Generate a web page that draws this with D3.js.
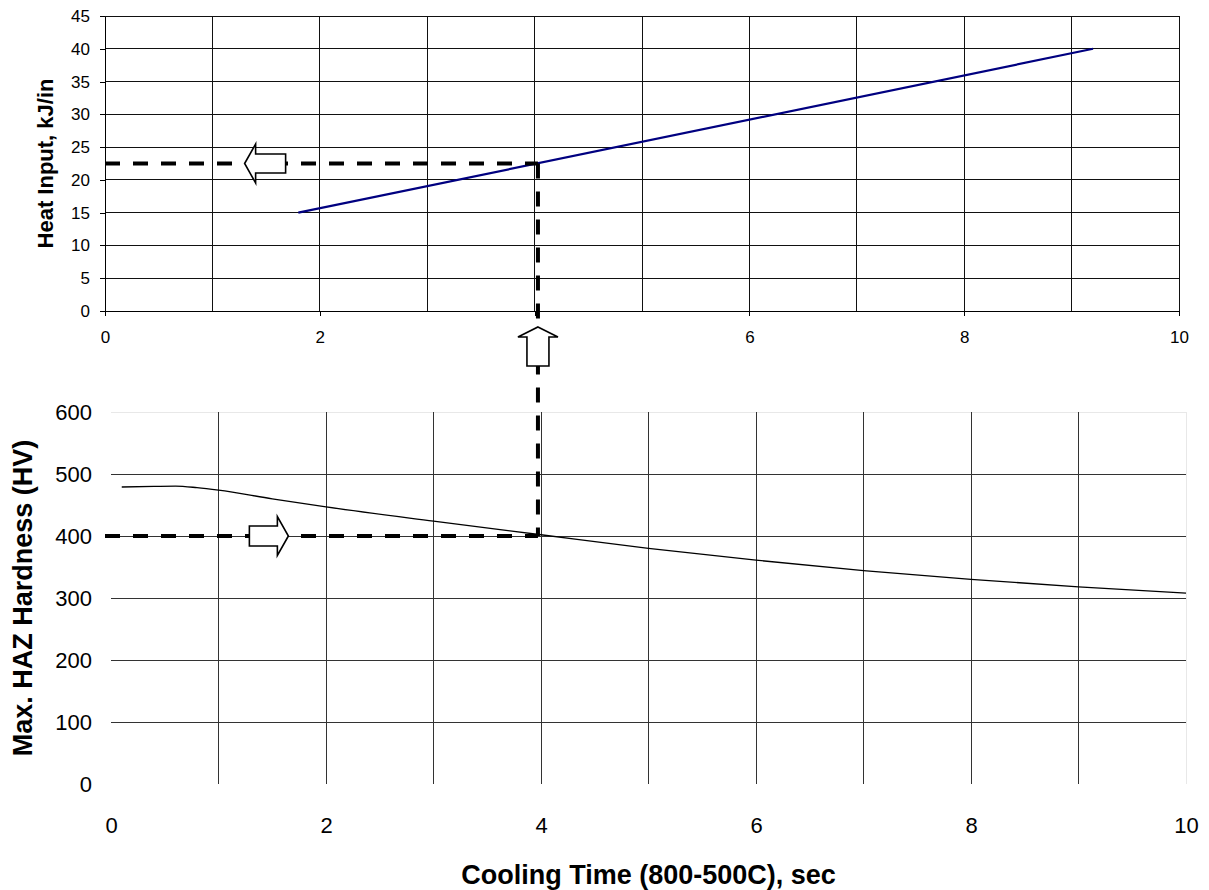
<!DOCTYPE html>
<html>
<head>
<meta charset="utf-8">
<script src="https://cdn.jsdelivr.net/npm/d3@7/dist/d3.min.js"></script>
<style>
  html, body { margin: 0; padding: 0; background: #fff; }
  svg { display: block; font-family: "Liberation Sans", Arial, sans-serif; }
</style>
</head>
<body>
<svg id="chart" width="1209" height="890"></svg>
<script>
// ---------- DATA ----------
// Top chart: Heat input vs cooling time
const heatTime  = [1.8, 9.2];
const heatInput = [15, 40];
// Bottom chart: Max HAZ hardness vs cooling time
const hardTime  = [0.1, 0.4, 0.6, 0.8, 1.0, 1.5, 2, 3, 4, 5, 6, 7, 8, 9, 10];
const hardness  = [479, 480, 480.5, 478, 474, 460, 447, 424, 402, 380, 361, 344, 330, 318, 308];
// Tick values
const topXTicks = [0, 2, 4, 6, 8, 10];
const topXGrid  = [1, 2, 3, 4, 5, 6, 7, 8, 9, 10];
const topYTicks = [0, 5, 10, 15, 20, 25, 30, 35, 40, 45];
const botXTicks = [0, 2, 4, 6, 8, 10];
const botXGrid  = [1, 2, 3, 4, 5, 6, 7, 8, 9];
const botYTicks = [0, 100, 200, 300, 400, 500, 600];
// Reading example
const readTime = 4.02;
const readHeat = 22.5;
const readHard = 400;
// Titles
const topYTitle = "Heat Input, kJ/in";
const botYTitle = "Max. HAZ Hardness (HV)";
const xTitle    = "Cooling Time (800-500C), sec";

// ---------- SCALES ----------
const svg = d3.select("#chart");
const xTop = d3.scaleLinear().domain([0, 10]).range([105, 1179]);
const yTop = d3.scaleLinear().domain([0, 45]).range([311, 16]);
const xBot = d3.scaleLinear().domain([0, 10]).range([111, 1186]);
const yBot = d3.scaleLinear().domain([0, 600]).range([784, 412]);

// ---------- TOP CHART ----------
const gTop = svg.append("g");
gTop.append("g").selectAll("line").data(topYTicks.filter(d => d > 0)).join("line")
  .attr("x1", xTop(0)).attr("x2", xTop(10))
  .attr("y1", d => yTop(d)).attr("y2", d => yTop(d))
  .attr("stroke", "#111").attr("stroke-width", 1).attr("shape-rendering", "crispEdges");
gTop.append("g").selectAll("line").data(topXGrid).join("line")
  .attr("x1", d => xTop(d)).attr("x2", d => xTop(d))
  .attr("y1", yTop(45)).attr("y2", yTop(0))
  .attr("stroke", "#111").attr("stroke-width", 1).attr("shape-rendering", "crispEdges");
const topYAxis = gTop.append("g").attr("transform", `translate(${xTop(0)},0)`)
  .call(d3.axisLeft(yTop).tickValues(topYTicks).tickSize(5).tickPadding(10).tickSizeOuter(0));
const topXAxis = gTop.append("g").attr("transform", `translate(0,${yTop(0)})`)
  .call(d3.axisBottom(xTop).tickValues(topXTicks).tickSize(5).tickPadding(15).tickSizeOuter(0));
[topYAxis, topXAxis].forEach(a => {
  a.select(".domain").attr("stroke", "#000").attr("shape-rendering", "crispEdges");
  a.selectAll(".tick line").attr("stroke", "#000").attr("shape-rendering", "crispEdges");
  a.selectAll("text").attr("font-size", 17).attr("fill", "#000")
    .attr("font-family", "'Liberation Sans', Arial, sans-serif");
});
gTop.append("path")
  .datum(heatTime.map((t, i) => [t, heatInput[i]]))
  .attr("fill", "none").attr("stroke", "#000080").attr("stroke-width", 2.2)
  .attr("d", d3.line().x(d => xTop(d[0])).y(d => yTop(d[1])));
svg.append("text")
  .attr("transform", `translate(53,${(yTop(0) + yTop(45)) / 2}) rotate(-90)`)
  .attr("text-anchor", "middle").attr("font-weight", "bold").attr("font-size", 22)
  .text(topYTitle);

// ---------- BOTTOM CHART ----------
const gBot = svg.append("g");
gBot.append("line").attr("x1", xBot(0)).attr("x2", xBot(10)).attr("y1", yBot(600)).attr("y2", yBot(600))
  .attr("stroke", "#e8e8e8").attr("shape-rendering", "crispEdges");
gBot.append("line").attr("x1", xBot(10)).attr("x2", xBot(10)).attr("y1", yBot(600)).attr("y2", yBot(0))
  .attr("stroke", "#e8e8e8").attr("shape-rendering", "crispEdges");
gBot.append("g").selectAll("line").data(botYTicks.filter(d => d > 0 && d < 600)).join("line")
  .attr("x1", xBot(0)).attr("x2", xBot(10))
  .attr("y1", d => yBot(d)).attr("y2", d => yBot(d))
  .attr("stroke", "#333").attr("stroke-width", 1).attr("shape-rendering", "crispEdges");
gBot.append("g").selectAll("line").data(botXGrid).join("line")
  .attr("x1", d => xBot(d)).attr("x2", d => xBot(d))
  .attr("y1", yBot(600)).attr("y2", yBot(0))
  .attr("stroke", "#333").attr("stroke-width", 1).attr("shape-rendering", "crispEdges");
const botYAxis = gBot.append("g").attr("transform", `translate(${xBot(0)},0)`)
  .call(d3.axisLeft(yBot).tickValues(botYTicks).tickSize(0).tickPadding(19));
const botXAxis = gBot.append("g").attr("transform", `translate(0,${yBot(0)})`)
  .call(d3.axisBottom(xBot).tickValues(botXTicks).tickSize(0).tickPadding(33));
[botYAxis, botXAxis].forEach(a => {
  a.select(".domain").remove();
  a.selectAll("text").attr("font-size", 22).attr("fill", "#000")
    .attr("font-family", "'Liberation Sans', Arial, sans-serif");
});
gBot.append("path")
  .datum(hardTime.map((t, i) => [t, hardness[i]]))
  .attr("fill", "none").attr("stroke", "#000").attr("stroke-width", 1.3)
  .attr("d", d3.line().curve(d3.curveMonotoneX).x(d => xBot(d[0])).y(d => yBot(d[1])));
svg.append("text")
  .attr("transform", `translate(32,${(yBot(0) + yBot(600)) / 2}) rotate(-90)`)
  .attr("text-anchor", "middle").attr("font-weight", "bold").attr("font-size", 27)
  .text(botYTitle);
svg.append("text")
  .attr("x", (xBot(0) + xBot(10)) / 2).attr("y", 884)
  .attr("text-anchor", "middle").attr("font-weight", "bold").attr("font-size", 27)
  .text(xTitle);

// ---------- READING GUIDE (dashed lines + arrows) ----------
const guideX = (xTop(readTime) + xBot(readTime)) / 2 - 2;
const dash = { stroke: "#000", w: 4, da: "15,13" };
svg.append("line")
  .attr("x1", xTop(0)).attr("x2", guideX).attr("y1", yTop(readHeat)).attr("y2", yTop(readHeat))
  .attr("stroke", dash.stroke).attr("stroke-width", dash.w).attr("stroke-dasharray", dash.da);
svg.append("line")
  .attr("x1", xTop(0)).attr("x2", guideX).attr("y1", yBot(readHard)).attr("y2", yBot(readHard))
  .attr("stroke", dash.stroke).attr("stroke-width", dash.w).attr("stroke-dasharray", dash.da);
svg.append("line")
  .attr("x1", guideX).attr("x2", guideX).attr("y1", yTop(readHeat)).attr("y2", yBot(readHard))
  .attr("stroke", dash.stroke).attr("stroke-width", dash.w).attr("stroke-dasharray", dash.da);

function arrowPath(tx, ty, dir, len, hd, hh, sh) {
  const pts = [[0, 0], [hd, -hh], [hd, -sh], [len, -sh], [len, sh], [hd, sh], [hd, hh]];
  const ang = { right: Math.PI, left: 0, up: Math.PI / 2, down: -Math.PI / 2 }[dir];
  const c = Math.cos(ang), s = Math.sin(ang);
  return "M" + pts.map(([x, y]) => [tx + x * c - y * s, ty + x * s + y * c].join(",")).join("L") + "Z";
}
const arrowStyle = a => a.attr("fill", "#fff").attr("stroke", "#000").attr("stroke-width", 1.6)
  .attr("stroke-linejoin", "miter");
svg.append("path").call(arrowStyle)
  .attr("d", arrowPath(xTop(1.30), yTop(readHeat), "left", 41, 11, 19.5, 9.5));
svg.append("path").call(arrowStyle)
  .attr("d", arrowPath(guideX, yTop(0) + 16, "up", 39, 10, 20, 11));
svg.append("path").call(arrowStyle)
  .attr("d", arrowPath(xBot(1.65), yBot(readHard), "right", 39, 11, 19.5, 10));
</script>
</body>
</html>
